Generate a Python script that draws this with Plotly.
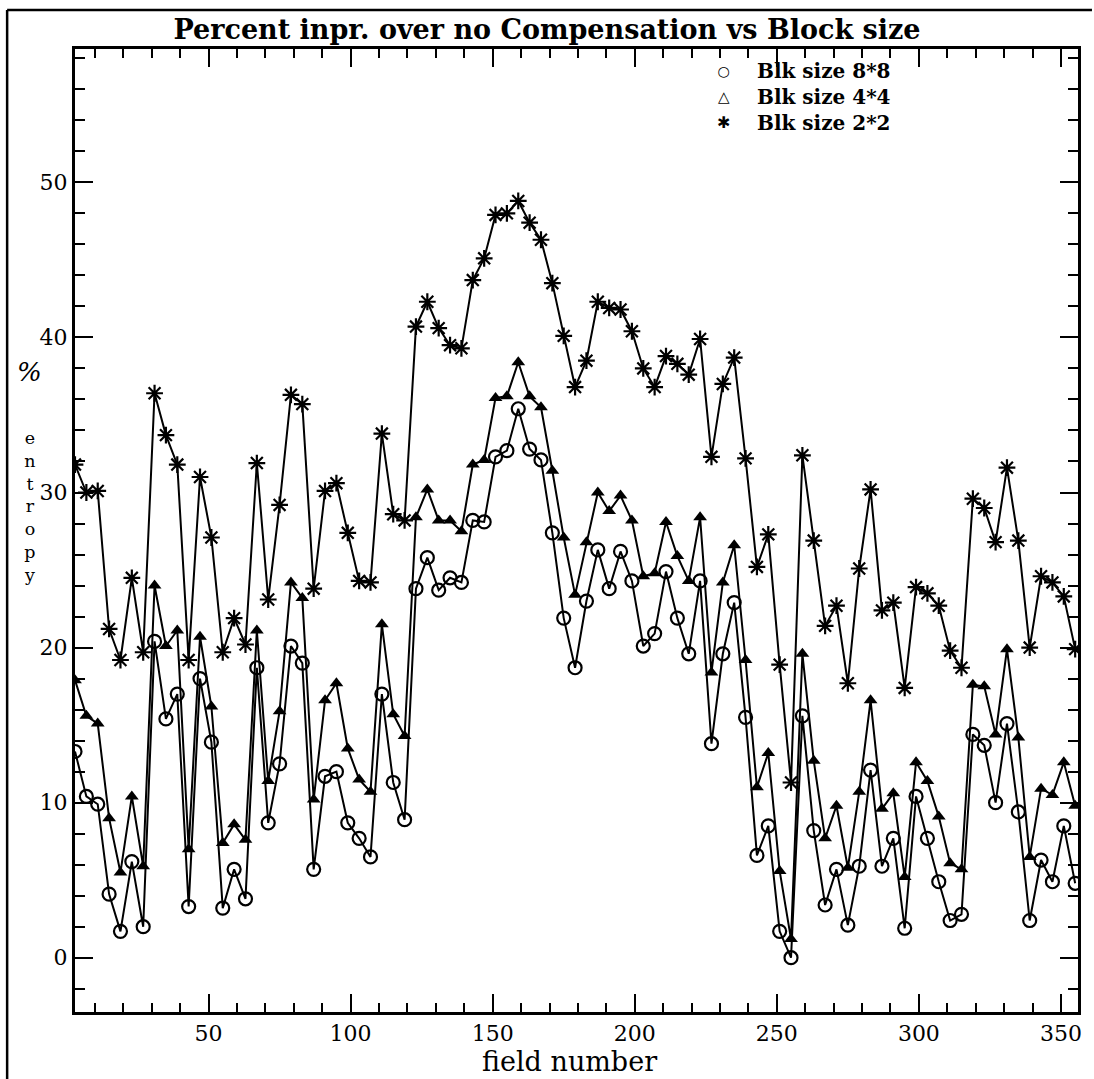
import plotly.graph_objects as go

fields = [3, 7, 11, 15, 19, 23, 27, 31, 35, 39, 43, 47, 51, 55, 59, 63, 67, 71, 75, 79,
          83, 87, 91, 95, 99, 103, 107, 111, 115, 119, 123, 127, 131, 135, 139, 143, 147, 151, 155, 159,
          163, 167, 171, 175, 179, 183, 187, 191, 195, 199, 203, 207, 211, 215, 219, 223, 227, 231, 235, 239,
          243, 247, 251, 255, 259, 263, 267, 271, 275, 279, 283, 287, 291, 295, 299, 303, 307, 311, 315, 319,
          323, 327, 331, 335, 339, 343, 347, 351, 355]

blk8 = [13.3, 10.4, 9.9, 4.1, 1.7, 6.2, 2.0, 20.4, 15.4, 17.0,
        3.3, 18.0, 13.9, 3.2, 5.7, 3.8, 18.7, 8.7, 12.5, 20.1,
        19.0, 5.7, 11.7, 12.0, 8.7, 7.7, 6.5, 17.0, 11.3, 8.9,
        23.8, 25.8, 23.7, 24.5, 24.2, 28.2, 28.1, 32.3, 32.7, 35.4,
        32.8, 32.1, 27.4, 21.9, 18.7, 23.0, 26.3, 23.8, 26.2, 24.3,
        20.1, 20.9, 24.9, 21.9, 19.6, 24.3, 13.8, 19.6, 22.9, 15.5,
        6.6, 8.5, 1.7, 0.0, 15.6, 8.2, 3.4, 5.7, 2.1, 5.9,
        12.1, 5.9, 7.7, 1.9, 10.4, 7.7, 4.9, 2.4, 2.8, 14.4,
        13.7, 10.0, 15.1, 9.4, 2.4, 6.3, 4.9, 8.5, 4.8]

blk4 = [17.9, 15.6, 15.1, 9.0, 5.5, 10.4, 5.9, 24.0, 20.1, 21.1,
        7.0, 20.7, 16.2, 7.4, 8.6, 7.6, 21.1, 11.4, 15.9, 24.2,
        23.2, 10.2, 16.6, 17.7, 13.5, 11.5, 10.7, 21.5, 15.7, 14.3,
        28.4, 30.2, 28.2, 28.2, 27.5, 31.8, 32.1, 36.1, 36.2, 38.4,
        36.2, 35.5, 31.4, 27.1, 23.4, 26.8, 30.0, 28.8, 29.8, 28.2,
        24.6, 24.8, 28.1, 25.9, 24.3, 28.4, 18.4, 24.2, 26.6, 19.2,
        11.0, 13.2, 5.6, 1.2, 19.6, 12.7, 7.7, 9.8, 5.8, 10.7,
        16.6, 9.6, 10.6, 5.2, 12.6, 11.4, 9.1, 6.1, 5.7, 17.6,
        17.5, 14.4, 19.9, 14.2, 6.5, 10.9, 10.5, 12.6, 9.8]

blk2 = [31.8, 30.0, 30.1, 21.2, 19.2, 24.5, 19.7, 36.4, 33.7, 31.8,
        19.2, 31.0, 27.1, 19.7, 21.9, 20.2, 31.9, 23.1, 29.2, 36.3,
        35.7, 23.8, 30.1, 30.6, 27.4, 24.3, 24.2, 33.8, 28.6, 28.2,
        40.7, 42.3, 40.6, 39.5, 39.3, 43.7, 45.1, 47.9, 48.0, 48.8,
        47.4, 46.3, 43.5, 40.1, 36.8, 38.5, 42.3, 41.9, 41.8, 40.4,
        38.0, 36.8, 38.8, 38.3, 37.6, 39.9, 32.3, 37.0, 38.7, 32.2,
        25.2, 27.3, 18.9, 11.3, 32.4, 26.9, 21.4, 22.7, 17.7, 25.1,
        30.2, 22.4, 22.9, 17.4, 23.9, 23.5, 22.7, 19.8, 18.7, 29.6,
        29.0, 26.8, 31.6, 26.9, 20.0, 24.6, 24.2, 23.3, 19.9]

names = ["Blk size 8*8", "Blk size 4*4", "Blk size 2*2"]
legend_glyphs = ["○", "△", "✱"]
legend_glyph_sizes = [14, 15, 16]
x_ticks = [50, 100, 150, 200, 250, 300, 350]
y_ticks = [0, 10, 20, 30, 40, 50]

SERIF = "DejaVu Serif"
W, H = 1094, 1079
ML, MR, MT, MB = 75, 14, 49, 67
PW, PH = W - ML - MR, H - MT - MB


def px(xp):
    return (xp - ML) / PW


def py(yp):
    return (H - MB - yp) / PH


fig = go.Figure()

fig.add_trace(go.Scatter(x=fields, y=blk8, mode="lines+markers", name=names[0],
                         line=dict(color="black", width=2),
                         marker=dict(symbol="circle-open", size=13, color="black",
                                     line=dict(width=2.2, color="black"))))
fig.add_trace(go.Scatter(x=fields, y=blk4, mode="lines+markers", name=names[1],
                         line=dict(color="black", width=2),
                         marker=dict(symbol="triangle-up", size=12, color="black")))
fig.add_trace(go.Scatter(x=fields, y=blk2, mode="lines+markers", name=names[2],
                         line=dict(color="black", width=2),
                         marker=dict(symbol="asterisk-open", size=14, color="black",
                                     line=dict(width=2.2, color="black"))))

axis_common = dict(showline=True, linecolor="black", linewidth=3, mirror="ticks",
                   ticks="inside", tickcolor="black", tickwidth=2, ticklen=18,
                   showgrid=False, zeroline=False,
                   tickfont=dict(family=SERIF, size=22, color="black"))

fig.update_xaxes(range=[3, 356], tickvals=x_ticks, ticktext=[str(v) for v in x_ticks],
                 minor=dict(dtick=10, tick0=0, ticks="inside", ticklen=9, tickwidth=2,
                            tickcolor="black", showgrid=False),
                 **axis_common)
fig.update_yaxes(range=[-3.5, 58.6], tickvals=y_ticks, ticktext=[str(v) for v in y_ticks],
                 minor=dict(dtick=2, tick0=0, ticks="inside", ticklen=10, tickwidth=2,
                            tickcolor="black", showgrid=False),
                 **axis_common)

fig.update_layout(
    width=W, height=H,
    margin=dict(l=ML, r=MR, t=MT, b=MB),
    paper_bgcolor="white", plot_bgcolor="white",
    showlegend=False,
    title=dict(text="Percent inpr. over no Compensation vs Block size",
               x=0.5, xref="container", xanchor="center",
               y=1 - 30 / H, yref="container", yanchor="middle",
               font=dict(family=SERIF, size=27, color="black", weight="bold")),
)

# legend drawn as two multi-line text blocks (symbols + labels)
LEG_SIZE = 20
glyph_text = "<br>".join(
    f"<span style='font-size:{s}px'>{g}</span>" for g, s in zip(legend_glyphs, legend_glyph_sizes))
fig.add_annotation(text=glyph_text, xref="paper", yref="paper", x=px(725), y=py(97),
                   xanchor="center", yanchor="middle", showarrow=False, align="center",
                   font=dict(family="DejaVu Sans", size=LEG_SIZE, color="black", weight="bold"))
fig.add_annotation(text="<br>".join(names), xref="paper", yref="paper", x=px(756), y=py(97),
                   xanchor="left", yanchor="middle", showarrow=False, align="left",
                   font=dict(family=SERIF, size=LEG_SIZE, color="black", weight="bold"))

# x axis title
fig.add_annotation(text="field number", xref="paper", yref="paper",
                   x=px(570), y=py(1061), xanchor="center", yanchor="middle",
                   showarrow=False, font=dict(family=SERIF, size=27, color="black"))

# vertical y label
fig.add_annotation(text="%", xref="paper", yref="paper", x=px(29), y=py(372),
                   xanchor="center", yanchor="middle", showarrow=False,
                   font=dict(family=SERIF, size=26, color="black", style="italic"))
fig.add_annotation(text="<br>".join("entropy"), xref="paper", yref="paper",
                   x=px(30), y=py(506), xanchor="center", yanchor="middle",
                   showarrow=False, align="center",
                   font=dict(family=SERIF, size=17.5, color="black"))

# outer frame of the page (left and top edges)
fig.add_shape(type="line", xref="paper", yref="paper", x0=px(7), x1=px(7),
              y0=py(10), y1=py(1079), line=dict(color="black", width=2.5))
fig.add_shape(type="line", xref="paper", yref="paper", x0=px(7), x1=px(1094),
              y0=py(10), y1=py(10), line=dict(color="black", width=2.5))

fig.write_html("out.html")
